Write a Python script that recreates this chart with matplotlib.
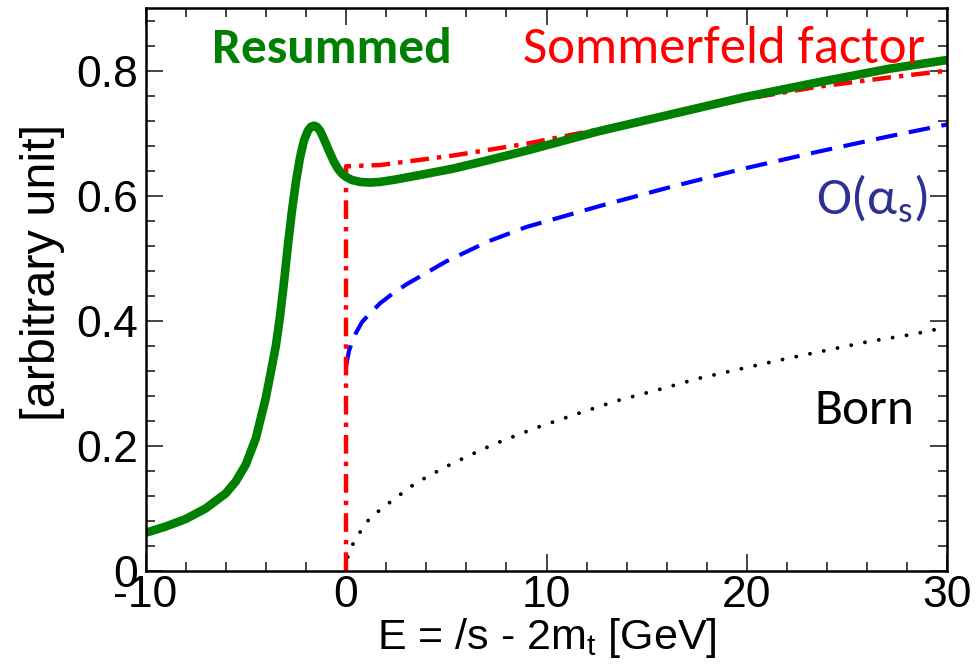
import matplotlib
matplotlib.use("Agg")
import matplotlib.pyplot as plt
from matplotlib.ticker import MultipleLocator

# ── Data ──────────────────────────────────────────────────────────────────────
resummed_x = [-10, -9, -8, -7, -6, -5.5, -5, -4.5, -4, -3.75, -3.5, -3.3, -3.1,
              -2.9, -2.7, -2.5, -2.3, -2.1, -1.9, -1.75, -1.6, -1.45, -1.3,
              -1.15, -1.0, -0.8, -0.6, -0.4, -0.2, 0, 0.3, 0.7, 1.2, 1.7,
              2.5, 4, 5.3, 7, 9, 12.6, 16.2, 19.8, 23.5, 27.1, 30]
resummed_y = [0.061, 0.071, 0.083, 0.100, 0.124, 0.143, 0.170, 0.212, 0.277,
              0.318, 0.360, 0.405, 0.460, 0.520, 0.575, 0.622, 0.660, 0.688,
              0.704, 0.710, 0.712, 0.710, 0.704, 0.694, 0.683, 0.668, 0.654,
              0.643, 0.635, 0.630, 0.625, 0.622, 0.621, 0.622, 0.626, 0.635,
              0.643, 0.656, 0.672, 0.703, 0.730, 0.757, 0.781, 0.803, 0.817]

sommerfeld_x = [0, 0, 1.7, 5.3, 9, 12.6, 16.2, 19.8, 23.5, 27.1, 30]
sommerfeld_y = [0.0, 0.647, 0.649, 0.664, 0.683, 0.706, 0.731, 0.754, 0.774,
                0.789, 0.800]

nlo_x = [0, 0.15, 0.3, 0.5, 0.8, 1.2, 1.7, 2.35, 3.0, 3.7, 5.0, 7.1, 9.0, 12.6,
         16.2, 19.8, 23.5, 27.1, 30]
nlo_y = [0.327, 0.352, 0.366, 0.381, 0.398, 0.412, 0.428, 0.444, 0.458, 0.471,
         0.495, 0.527, 0.550, 0.583, 0.614, 0.643, 0.670, 0.695, 0.714]

born_x = [0, 0.1, 0.4, 0.8, 1.2, 1.8, 2.4, 3.5, 5.0, 6.1, 7.4, 9.4, 11.5, 13.5,
          15.6, 17.6, 19.8, 21.9, 24.0, 26.1, 28.2, 30]
born_y = [0.0, 0.026, 0.047, 0.067, 0.085, 0.100, 0.115, 0.141, 0.167, 0.184,
          0.203, 0.228, 0.251, 0.272, 0.290, 0.308, 0.324, 0.339, 0.353, 0.367,
          0.378, 0.390]

x_ticks = [-10, 0, 10, 20, 30]
y_ticks = [0, 0.2, 0.4, 0.6, 0.8]
y_tick_labels = ["0", "0.2", "0.4", "0.6", "0.8"]

# ── Figure ────────────────────────────────────────────────────────────────────
plt.rcParams["font.family"] = ["Liberation Sans", "DejaVu Sans"]
plt.rcParams["axes.unicode_minus"] = False

fig = plt.figure(figsize=(9.78, 6.70), dpi=100, facecolor="white")
ax = fig.add_axes([0.1488, 0.1478, 0.8200, 0.8402])

ax.plot(born_x, born_y, color="black", lw=2.8,
        linestyle=(0, (0.01, 3.6)), dash_capstyle="round")
ax.plot(nlo_x, nlo_y, color="#0000ff", lw=3.0,
        linestyle=(0, (5.2, 2.8)))
ax.plot(sommerfeld_x, sommerfeld_y, color="#ff0000", lw=3.2,
        linestyle=(0, (4.2, 1.8, 1.0, 1.8)))
ax.plot(resummed_x, resummed_y, color="#008000", lw=6.2,
        solid_capstyle="butt")

ax.set_xlim(-10, 30)
ax.set_ylim(0, 0.9)
ax.set_xticks(x_ticks)
ax.set_yticks(y_ticks)
ax.set_yticklabels(y_tick_labels)
ax.xaxis.set_minor_locator(MultipleLocator(2))
ax.yaxis.set_minor_locator(MultipleLocator(0.04))

ax.tick_params(which="both", direction="in", top=True, right=True,
               colors="#444444", labelcolor="black", width=1.4)
ax.tick_params(which="major", length=12.5, labelsize=32)
ax.tick_params(which="minor", length=6.5)
ax.tick_params(axis="x", which="major", pad=3)
ax.tick_params(axis="y", which="major", pad=5.5)
for sp in ax.spines.values():
    sp.set_linewidth(1.8)
    sp.set_color("black")

ax.set_xlabel(r"E = /s - 2m$_\mathregular{t}$ [GeV]", fontsize=31, labelpad=0)
ax.set_ylabel("[arbitrary unit]", fontsize=35)
ax.yaxis.set_label_coords(-0.10, 0.531)

# ── In-plot labels ────────────────────────────────────────────────────────────
LBLFONT = ["Carlito", "Open Sans", "DejaVu Sans"]
ax.text(0.083, 0.903, "Resummed", transform=ax.transAxes, color="#008000",
        fontsize=37, fontweight="bold", family=LBLFONT, ha="left", va="baseline")
ax.text(0.471, 0.903, "Sommerfeld factor", transform=ax.transAxes,
        color="#ff0000", fontsize=38, family=LBLFONT, ha="left", va="baseline")
ax.text(0.9745, 0.633, r"O(α$_\mathregular{s}$)", transform=ax.transAxes,
        color="#2e3192", fontsize=38, family=LBLFONT, ha="right", va="baseline")
ax.text(0.959, 0.261, "Born", transform=ax.transAxes, color="black",
        fontsize=37, family=LBLFONT, ha="right", va="baseline")

fig.savefig("out.png", dpi=100)
